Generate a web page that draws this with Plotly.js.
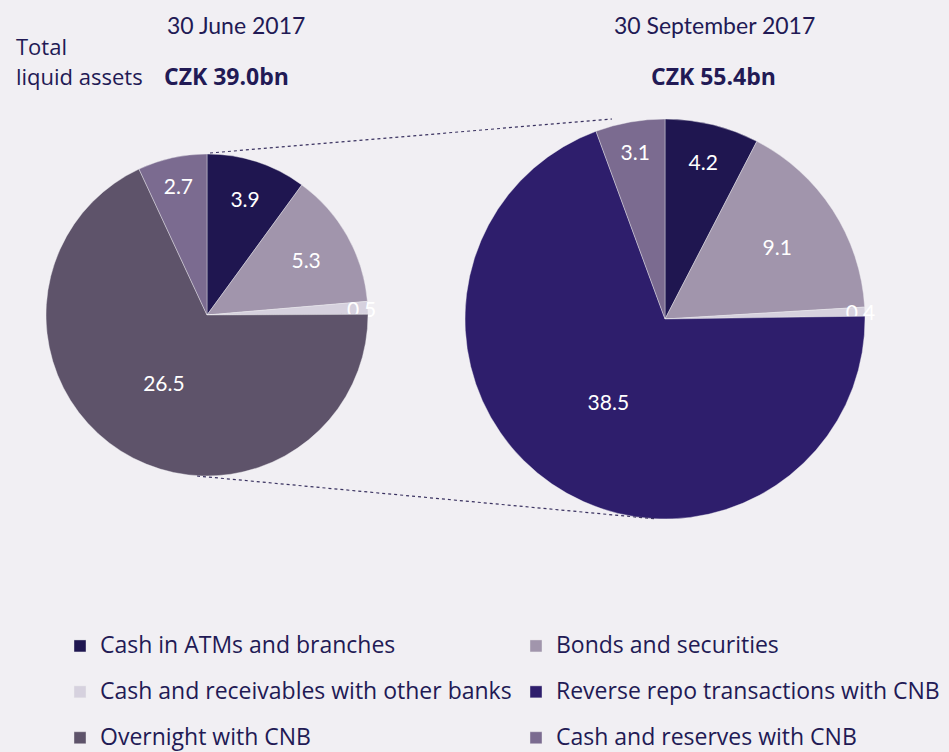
<!DOCTYPE html>
<html><head><meta charset="utf-8">
<script src="https://cdn.plot.ly/plotly-3.0.1.min.js"></script>
<style>html,body{margin:0;padding:0;background:#f1eff3;}</style>
</head><body>
<div id="chart" style="width:949px;height:752px;"></div>
<script>
// ---- data ----
const labels = ["Cash in ATMs and branches","Bonds and securities","Cash and receivables with other banks","Reverse repo transactions with CNB","Overnight with CNB","Cash and reserves with CNB"];
const colors = ["#1f1650","#a195ac","#d6d1de","#2e1e6c","#5e536a","#7b6b90"];
const juneValues = [3.9, 5.3, 0.5, 0, 26.5, 2.7];
const septLabels = ["Cash in ATMs and branches","Bonds and securities","Cash and receivables with other banks","Reverse repo transactions with CNB","Cash and reserves with CNB"];
const septColors = ["#1f1650","#a195ac","#d6d1de","#2e1e6c","#7b6b90"];
const septValues = [4.2, 9.1, 0.4, 38.5, 3.1];
const titles = ["30 June 2017","30 September 2017"];
const totals = ["CZK 39.0bn","CZK 55.4bn"];
const totalLabel = ["Total","liquid assets"];

const W = 949, H = 752;
const txt = "#221a55";
const LATO = "Lato, sans-serif";
const OPEN = "'Open Sans', sans-serif";
// pie geometry in px (center x, center y from top, radius)
const pL = {cx:207, cy:315, r:161};
const pR = {cx:665, cy:319, r:200};
function dom(p){return {x:[(p.cx-p.r)/W,(p.cx+p.r)/W], y:[1-(p.cy+p.r)/H,1-(p.cy-p.r)/H]};}
function fmt(vals){return vals.map(v=> v>0 ? v.toFixed(1) : "");}
// legend label display (smaller text inside a taller legend row)
function legendText(arr){return arr.map(s=>'<span style="font-size:23px;baseline-shift:6px">'+s+'</span>');}

const common = {type:"pie", sort:false, direction:"clockwise", rotation:0,
  textinfo:"text", textposition:"inside", insidetextorientation:"horizontal",
  textfont:{color:"#ffffff", size:21, family:LATO}, hoverinfo:"label+value"};

const traces = [
  Object.assign({}, common, {labels:legendText(labels), values:juneValues, text:fmt(juneValues),
    marker:{colors:colors, line:{width:0.8, color:"rgba(241,239,243,0.5)"}}, domain:dom(pL), name:titles[0]}),
  Object.assign({}, common, {labels:legendText(septLabels), values:septValues, text:fmt(septValues),
    marker:{colors:septColors, line:{width:0.8, color:"rgba(241,239,243,0.5)"}}, domain:dom(pR), name:titles[1]})
];

function px(x){return x/W;} function py(y){return 1-y/H;}
const dotLine = {color:"#3a3260", width:1.2, dash:"dot"};
const shapes = [
  {type:"line", xref:"paper", yref:"paper", x0:px(pL.cx+3), y0:py(pL.cy-pL.r-1), x1:px(pR.cx-53), y1:py(pR.cy-pR.r), line:dotLine},
  {type:"line", xref:"paper", yref:"paper", x0:px(pL.cx-10), y0:py(pL.cy+pL.r), x1:px(pR.cx-8), y1:py(pR.cy+pR.r), line:dotLine}
];

const ann = [
  {text:titles[0], x:px(236), y:py(25), font:{family:LATO, size:23, color:txt}},
  {text:titles[1], x:px(714), y:py(25), font:{family:LATO, size:23, color:txt}},
  {text:totalLabel[0], x:px(14), y:py(46), xanchor:"left"},
  {text:totalLabel[1], x:px(14), y:py(76), xanchor:"left"},
  {text:"<b>"+totals[0]+"</b>", x:px(226), y:py(76), font:{family:OPEN, size:23, color:txt}},
  {text:"<b>"+totals[1]+"</b>", x:px(713), y:py(76), font:{family:OPEN, size:23, color:txt}}
].map(a=>Object.assign({xref:"paper", yref:"paper", showarrow:false, xanchor:"center", yanchor:"middle",
   font:{family:OPEN, size:22, color:txt}}, a));

const layout = {
  width:W, height:H, margin:{l:0,r:0,t:0,b:0, autoexpand:false},
  paper_bgcolor:"#f1eff3", plot_bgcolor:"#f1eff3",
  font:{family:OPEN, color:txt},
  showlegend:true,
  legend:{orientation:"h", x:px(60), y:py(618), xanchor:"left", yanchor:"top",
    entrywidth:411, entrywidthmode:"pixels", font:{family:OPEN, size:33, color:txt},
    traceorder:"normal", itemclick:false, bgcolor:"rgba(0,0,0,0)"},
  uniformtext:{minsize:21, mode:"show"},
  shapes:shapes, annotations:ann
};
Plotly.newPlot("chart", traces, layout, {displayModeBar:false, staticPlot:true});
</script>
</body></html>
